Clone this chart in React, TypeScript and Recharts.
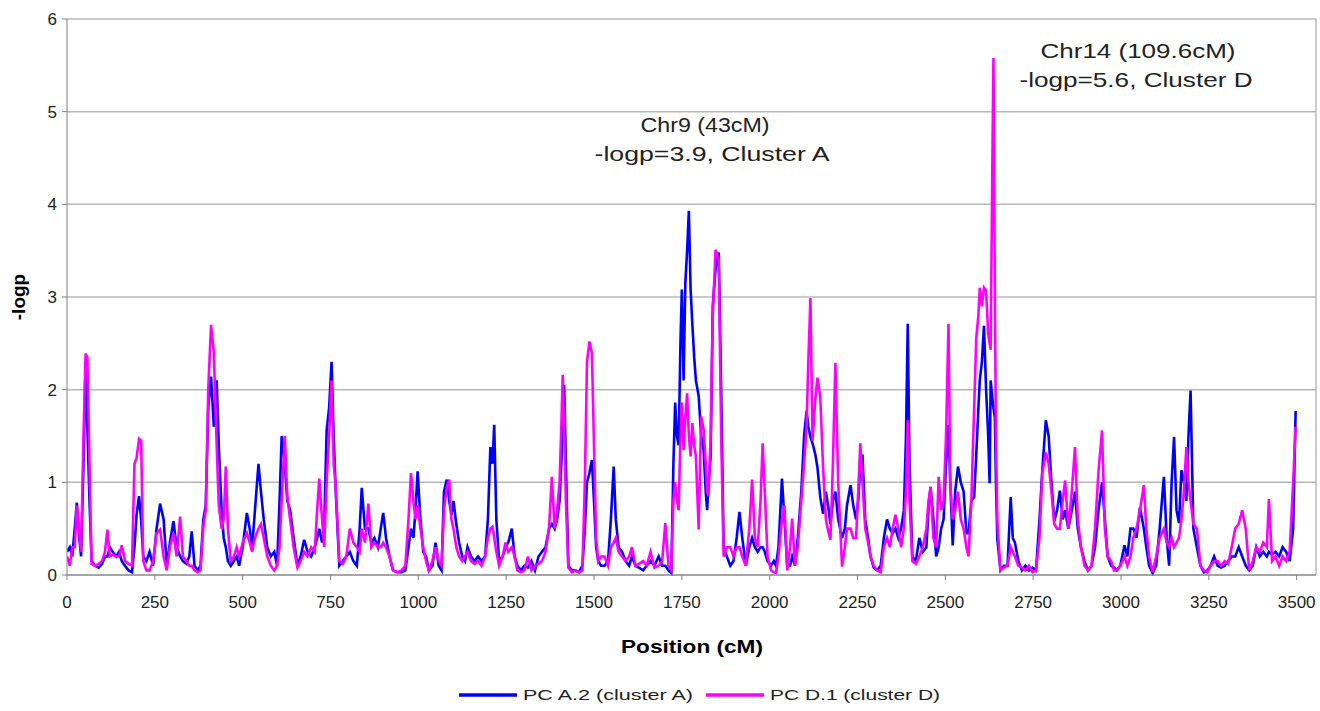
import React from "react";
import { LineChart, Line, XAxis, YAxis, CartesianGrid, ReferenceLine, Legend, Customized } from "recharts";

// Position (cM)
const positions = [
  0, 8, 15, 22, 28, 34, 40, 47, 53, 58, 64, 70, 80, 90, 100, 108, 115, 122, 130, 140,
  148, 156, 165, 175, 185, 192, 198, 205, 211, 217, 226, 235, 245, 255, 265, 275, 284, 293, 303, 312,
  322, 330, 340, 348, 355, 363, 372, 380, 388, 395, 402, 410, 418, 426, 432, 440, 446, 452, 458, 466,
  475, 483, 490, 500, 512, 520, 527, 535, 545, 552, 560, 570, 580, 590, 598, 605, 611, 620, 627, 635,
  645, 656, 665, 675, 685, 695, 705, 712, 718, 726, 732, 739, 746, 753, 759, 765, 775, 785, 795, 805,
  815, 825, 833, 839, 848, 858, 866, 875, 885, 893, 900, 908, 918, 928, 940, 952, 963, 972, 979, 986,
  992, 998, 1006, 1014, 1022, 1030, 1040, 1049, 1058, 1066, 1073, 1081, 1088, 1094, 1100, 1108, 1116, 1125, 1133, 1140,
  1150, 1160, 1170, 1180, 1190, 1198, 1205, 1211, 1216, 1222, 1230, 1240, 1248, 1256, 1266, 1274, 1282, 1292, 1302, 1312,
  1322, 1332, 1342, 1352, 1362, 1372, 1380, 1388, 1395, 1402, 1407, 1411, 1415, 1420, 1427, 1437, 1447, 1457, 1467, 1474,
  1480, 1487, 1494, 1500, 1506, 1512, 1520, 1530, 1540, 1548, 1556, 1562, 1570, 1580, 1590, 1600, 1608, 1618, 1628, 1640,
  1650, 1661, 1672, 1684, 1694, 1703, 1712, 1720, 1726, 1731, 1736, 1741, 1746, 1750, 1755, 1760, 1765, 1770, 1775, 1780,
  1785, 1790, 1798, 1805, 1812, 1818, 1822, 1826, 1832, 1838, 1846, 1855, 1862, 1869, 1878, 1888, 1897, 1906, 1914, 1922,
  1932, 1942, 1950, 1958, 1966, 1974, 1980, 1986, 1994, 2004, 2012, 2018, 2025, 2035, 2042, 2050, 2058, 2064, 2072, 2080,
  2090, 2098, 2105, 2110, 2116, 2122, 2130, 2136, 2144, 2152, 2160, 2168, 2173, 2180, 2187, 2195, 2206, 2214, 2220, 2230,
  2238, 2246, 2252, 2258, 2264, 2272, 2280, 2287, 2296, 2306, 2316, 2325, 2334, 2342, 2350, 2358, 2366, 2374, 2382, 2388,
  2393, 2398, 2406, 2416, 2426, 2436, 2446, 2452, 2458, 2466, 2474, 2481, 2488, 2495, 2502, 2509, 2514, 2521, 2528, 2536,
  2544, 2552, 2560, 2566, 2574, 2582, 2588, 2594, 2598, 2604, 2610, 2616, 2622, 2626, 2629, 2634, 2637, 2641, 2644, 2648,
  2657, 2667, 2677, 2686, 2692, 2698, 2708, 2718, 2728, 2738, 2748, 2758, 2768, 2776, 2786, 2794, 2802, 2810, 2818, 2826,
  2834, 2841, 2850, 2860, 2869, 2877, 2886, 2896, 2906, 2916, 2926, 2936, 2946, 2954, 2962, 2972, 2980, 2988, 2998, 3010,
  3018, 3027, 3035, 3044, 3054, 3065, 3072, 3080, 3090, 3100, 3110, 3122, 3130, 3137, 3144, 3151, 3158, 3165, 3172, 3179,
  3186, 3192, 3198, 3206, 3216, 3226, 3236, 3246, 3255, 3265, 3275, 3285, 3295, 3305, 3315, 3325, 3335, 3345, 3355, 3365,
  3375, 3385, 3395, 3405, 3415, 3421, 3430, 3440, 3450, 3460, 3470, 3480, 3490, 3497,
];

// PC A.2 (cluster A) -logp
const pcA2 = [
  0.25, 0.3, 0.2, 0.5, 0.78, 0.45, 0.2, 1.2, 2.3, 1.6, 0.8, 0.15, 0.1, 0.08, 0.12, 0.2, 0.2, 0.3, 0.25, 0.2,
  0.25, 0.15, 0.1, 0.05, 0.03, 0.3, 0.65, 0.85, 0.6, 0.2, 0.15, 0.25, 0.1, 0.5, 0.77, 0.6, 0.1, 0.35, 0.58, 0.3,
  0.2, 0.15, 0.12, 0.2, 0.47, 0.1, 0.05, 0.1, 0.6, 0.75, 1.8, 2.14, 1.6, 2.1, 1.4, 0.7, 0.4, 0.3, 0.15, 0.1,
  0.15, 0.2, 0.1, 0.3, 0.67, 0.5, 0.3, 0.7, 1.2, 0.9, 0.6, 0.3, 0.2, 0.25, 0.1, 0.8, 1.5, 1.2, 0.8, 0.7,
  0.4, 0.1, 0.2, 0.38, 0.25, 0.2, 0.3, 0.4, 0.5, 0.35, 0.5, 1.56, 1.8, 2.3, 1.5, 0.9, 0.1, 0.15, 0.2, 0.25,
  0.15, 0.1, 0.5, 0.94, 0.5, 0.5, 0.35, 0.4, 0.3, 0.5, 0.67, 0.4, 0.2, 0.05, 0.03, 0.03, 0.05, 0.3, 0.5, 0.4,
  0.7, 1.12, 0.6, 0.25, 0.2, 0.05, 0.1, 0.35, 0.1, 0.05, 0.9, 1.03, 0.8, 0.65, 0.8, 0.55, 0.35, 0.2, 0.15, 0.3,
  0.2, 0.15, 0.2, 0.15, 0.2, 0.6, 1.38, 1.2, 1.62, 0.6, 0.15, 0.2, 0.3, 0.35, 0.5, 0.2, 0.1, 0.05, 0.1, 0.08,
  0.15, 0.05, 0.2, 0.25, 0.3, 0.5, 0.55, 0.5, 0.6, 0.8, 1.2, 1.7, 2.05, 1.2, 0.1, 0.05, 0.05, 0.03, 0.1, 0.5,
  1.0, 1.1, 1.24, 0.8, 0.3, 0.15, 0.1, 0.1, 0.15, 0.6, 1.17, 0.6, 0.3, 0.25, 0.15, 0.1, 0.2, 0.1, 0.08, 0.05,
  0.1, 0.15, 0.1, 0.2, 0.1, 0.1, 0.05, 0.02, 1.2, 1.86, 1.5, 1.4, 2.5, 3.08, 2.1, 3.15, 3.5, 3.93, 3.08, 2.7,
  2.36, 2.1, 1.93, 1.5, 1.35, 0.9, 0.7, 1.0, 1.28, 2.9, 3.3, 3.48, 2.0, 0.3, 0.2, 0.1, 0.15, 0.4, 0.68, 0.4,
  0.1, 0.3, 0.4, 0.3, 0.25, 0.3, 0.3, 0.25, 0.15, 0.1, 0.15, 0.1, 0.3, 1.04, 0.6, 0.1, 0.1, 0.2, 0.1, 0.4,
  0.9, 1.5, 1.77, 1.6, 1.49, 1.42, 1.3, 1.16, 0.84, 0.66, 0.9, 0.7, 0.55, 0.8, 0.9, 0.6, 0.4, 0.5, 0.75, 0.97,
  0.75, 0.6, 0.8, 1.2, 1.3, 0.6, 0.4, 0.2, 0.08, 0.05, 0.1, 0.4, 0.6, 0.5, 0.45, 0.5, 0.4, 0.5, 0.7, 1.5,
  2.71, 1.2, 0.2, 0.15, 0.4, 0.25, 0.3, 0.7, 0.95, 0.6, 0.2, 0.3, 0.5, 0.6, 1.2, 1.62, 1.0, 0.32, 0.9, 1.17,
  1.0, 0.9, 0.45, 0.45, 0.8, 0.84, 1.3, 1.8, 2.1, 2.3, 2.69, 2.0, 1.5, 0.99, 2.1, 1.9, 1.8, 1.7, 1.0, 0.39,
  0.05, 0.1, 0.1, 0.84, 0.4, 0.35, 0.15, 0.05, 0.1, 0.05, 0.08, 0.05, 0.6, 1.13, 1.67, 1.5, 1.0, 0.58, 0.7, 0.91,
  0.6, 0.7, 0.5, 0.7, 0.9, 0.5, 0.3, 0.15, 0.05, 0.1, 0.3, 0.7, 1.0, 0.6, 0.2, 0.1, 0.08, 0.05, 0.1, 0.32,
  0.2, 0.5, 0.5, 0.4, 0.73, 0.5, 0.3, 0.1, 0.02, 0.1, 0.5, 1.06, 0.4, 0.1, 1.0, 1.49, 0.7, 0.56, 1.13, 1.0,
  0.8, 1.5, 1.99, 0.5, 0.3, 0.1, 0.03, 0.05, 0.1, 0.2, 0.1, 0.08, 0.1, 0.15, 0.2, 0.2, 0.3, 0.2, 0.1, 0.05,
  0.1, 0.3, 0.2, 0.25, 0.2, 0.25, 0.22, 0.25, 0.2, 0.3, 0.25, 0.15, 0.5, 1.77,
];

// PC D.1 (cluster D) -logp
const pcD1 = [
  0.2, 0.1, 0.3, 0.3, 0.75, 0.5, 0.25, 1.5, 2.39, 2.35, 1.2, 0.12, 0.1, 0.12, 0.15, 0.25, 0.49, 0.2, 0.22, 0.2,
  0.2, 0.32, 0.15, 0.12, 0.1, 1.2, 1.26, 1.47, 1.45, 0.15, 0.05, 0.05, 0.15, 0.45, 0.49, 0.2, 0.05, 0.3, 0.45, 0.2,
  0.63, 0.2, 0.15, 0.1, 0.1, 0.05, 0.03, 0.05, 0.52, 0.7, 2.0, 2.7, 2.4, 1.4, 0.75, 0.5, 0.6, 1.17, 0.5, 0.15,
  0.2, 0.3, 0.2, 0.35, 0.45, 0.35, 0.25, 0.4, 0.5, 0.55, 0.4, 0.2, 0.1, 0.05, 0.1, 0.3, 0.8, 1.5, 0.85, 0.6,
  0.3, 0.08, 0.15, 0.25, 0.2, 0.3, 0.25, 0.7, 1.04, 0.6, 0.3, 1.0, 1.5, 2.1, 1.2, 0.95, 0.15, 0.12, 0.2, 0.5,
  0.35, 0.3, 0.25, 0.5, 0.35, 0.77, 0.3, 0.35, 0.3, 0.3, 0.35, 0.3, 0.2, 0.05, 0.03, 0.05, 0.1, 0.6, 1.1, 0.8,
  0.6, 0.75, 0.5, 0.3, 0.15, 0.05, 0.15, 0.3, 0.15, 0.1, 0.7, 0.95, 1.03, 0.6, 0.5, 0.3, 0.2, 0.15, 0.2, 0.25,
  0.15, 0.12, 0.15, 0.1, 0.2, 0.4, 0.5, 0.52, 0.4, 0.25, 0.1, 0.2, 0.35, 0.25, 0.3, 0.2, 0.05, 0.03, 0.05, 0.2,
  0.05, 0.1, 0.12, 0.15, 0.25, 0.5, 1.06, 0.5, 0.7, 1.0, 1.6, 2.16, 1.6, 0.8, 0.08, 0.03, 0.05, 0.03, 0.05, 1.0,
  2.3, 2.52, 2.4, 1.4, 0.4, 0.15, 0.2, 0.2, 0.1, 0.3, 0.35, 0.4, 0.25, 0.2, 0.15, 0.2, 0.3, 0.1, 0.12, 0.15,
  0.1, 0.25, 0.08, 0.1, 0.15, 0.56, 0.1, 0.05, 0.8, 1.0, 0.8, 0.7, 1.5, 1.86, 1.35, 1.7, 1.96, 1.5, 1.28, 1.64,
  1.4, 1.28, 0.49, 1.71, 1.57, 1.2, 0.9, 0.85, 1.5, 2.8, 3.51, 3.4, 1.5, 0.2, 0.3, 0.3, 0.2, 0.3, 0.3, 0.2,
  0.1, 0.5, 1.03, 0.4, 0.3, 0.8, 1.42, 0.9, 0.2, 0.05, 0.03, 0.02, 0.2, 0.6, 0.75, 0.05, 0.3, 0.61, 0.1, 0.3,
  0.8, 1.2, 1.6, 2.3, 2.99, 1.45, 1.9, 2.13, 1.92, 1.16, 0.6, 0.45, 0.38, 1.2, 2.29, 1.0, 0.09, 0.3, 0.5, 0.5,
  0.4, 0.4, 0.9, 1.42, 1.0, 0.5, 0.35, 0.2, 0.1, 0.05, 0.03, 0.3, 0.4, 0.3, 0.5, 0.65, 0.5, 0.3, 0.5, 0.9,
  1.67, 0.8, 0.15, 0.12, 0.2, 0.3, 0.5, 0.8, 0.95, 0.4, 0.3, 1.06, 0.7, 0.8, 1.5, 2.71, 1.0, 0.6, 0.7, 0.9,
  0.6, 0.5, 0.3, 0.2, 0.8, 1.8, 2.55, 2.8, 3.1, 2.9, 3.1, 3.07, 2.6, 2.5, 2.43, 4.5, 5.58, 3.0, 1.5, 0.58,
  0.05, 0.08, 0.1, 0.3, 0.25, 0.2, 0.1, 0.08, 0.05, 0.1, 0.03, 0.05, 0.4, 1.1, 1.32, 1.2, 0.9, 0.55, 0.5, 0.5,
  0.8, 1.02, 0.5, 0.9, 1.38, 0.6, 0.3, 0.1, 0.05, 0.1, 0.5, 1.12, 1.56, 0.5, 0.2, 0.15, 0.05, 0.05, 0.1, 0.2,
  0.1, 0.2, 0.4, 0.5, 0.7, 0.97, 0.5, 0.2, 0.03, 0.2, 0.4, 0.5, 0.35, 0.3, 0.4, 0.3, 0.35, 0.4, 0.6, 0.9,
  1.38, 1.0, 0.8, 0.55, 0.5, 0.1, 0.05, 0.03, 0.1, 0.15, 0.15, 0.1, 0.15, 0.12, 0.3, 0.5, 0.55, 0.7, 0.5, 0.05,
  0.15, 0.3, 0.25, 0.35, 0.3, 0.82, 0.15, 0.2, 0.1, 0.2, 0.15, 0.25, 1.0, 1.6,
];

const xTicks = [0, 250, 500, 750, 1000, 1250, 1500, 1750, 2000, 2250, 2500, 2750, 3000, 3250, 3500];
const yTicks = [0, 1, 2, 3, 4, 5, 6];

const seriesNames = ["PC A.2 (cluster A)", "PC D.1 (cluster D)"];
const seriesColors = ["#0000ff", "#ff00ff"];

const annotations = [
  { lines: ["Chr9 (43cM)", "-logp=3.9, Cluster A"], cx: [705, 712], widths: [129, 235] },
  { lines: ["Chr14 (109.6cM)", "-logp=5.6, Cluster D"], cx: [1138, 1136], widths: [195, 233] },
];

const data = positions.map((p, i) => ({ pos: p, a: pcA2[i], d: pcD1[i] }));

const FONT = "'Liberation Sans', Arial, sans-serif";

const Overlay = () => (
  <g>
    {annotations.map((a, i) => (
      <g key={i}>
        <text x={a.cx[0]} y={i === 0 ? 132 : 58} textAnchor="middle" fontSize={21} fontFamily={FONT} fill="#222"
          textLength={a.widths[0]} lengthAdjust="spacingAndGlyphs">{a.lines[0]}</text>
        <text x={a.cx[1]} y={i === 0 ? 161 : 87} textAnchor="middle" fontSize={21} fontFamily={FONT} fill="#222"
          textLength={a.widths[1]} lengthAdjust="spacingAndGlyphs">{a.lines[1]}</text>
      </g>
    ))}
    <text x={692} y={653} textAnchor="middle" fontSize={19} fontWeight="bold" fontFamily={FONT} fill="#000"
      textLength={142} lengthAdjust="spacingAndGlyphs">Position (cM)</text>
    <text x={0} y={0} transform="translate(25,297) rotate(-90)" textAnchor="middle" fontSize={19} fontWeight="bold" fontFamily={FONT} fill="#000">-logp</text>
  </g>
);

const LegendContent = () => (
  <svg width={1320} height={24} style={{ display: "block" }}>
    {[0, 1].map((i) => {
      const x0 = i === 0 ? 459 : 706;
      return (
        <g key={i}>
          <line x1={x0} x2={x0 + 58} y1={12} y2={12} stroke={seriesColors[i]} strokeWidth={3.5} />
          <text x={x0 + 64} y={17} fontSize={15} fontFamily={FONT} fill="#222" textLength={170} lengthAdjust="spacingAndGlyphs">
            {seriesNames[i]}
          </text>
        </g>
      );
    })}
  </svg>
);

export default function App() {
  return (
    <div style={{ position: "absolute", left: 0, top: 0, width: 1320, height: 711, background: "#fff" }}>
      <LineChart width={1320} height={711} data={data} margin={{ top: 19, right: 4, left: 0, bottom: 0 }}>
        <CartesianGrid horizontal={true} vertical={false} stroke="#b8b8b8" strokeWidth={1.5} />
        <XAxis
          dataKey="pos"
          type="number"
          domain={[0, 3555]}
          ticks={xTicks}
          allowDataOverflow
          height={136}
          tickSize={5}
          tickMargin={16}
          tick={{ fontSize: 17, fill: "#222", fontFamily: FONT }}
          stroke="#808080"
          interval={0}
        />
        <YAxis
          type="number"
          domain={[0, 6]}
          ticks={yTicks}
          width={67}
          tickSize={5}
          tickMargin={5}
          tick={{ fontSize: 17, fill: "#222", fontFamily: FONT }}
          stroke="#808080"
          interval={0}
        />
        <ReferenceLine x={3555} stroke="#b8b8b8" strokeWidth={1.5} />
        <Line type="linear" dataKey="a" name={seriesNames[0]} stroke={seriesColors[0]} strokeWidth={2.6} dot={false} isAnimationActive={false} />
        <Line type="linear" dataKey="d" name={seriesNames[1]} stroke={seriesColors[1]} strokeWidth={2.6} dot={false} isAnimationActive={false} />
        <Legend verticalAlign="middle" align="center" layout="horizontal" content={<LegendContent />}
          wrapperStyle={{ top: 683, left: 0, width: 1320, height: 24 }} />
        <Customized component={Overlay} />
      </LineChart>
    </div>
  );
}
